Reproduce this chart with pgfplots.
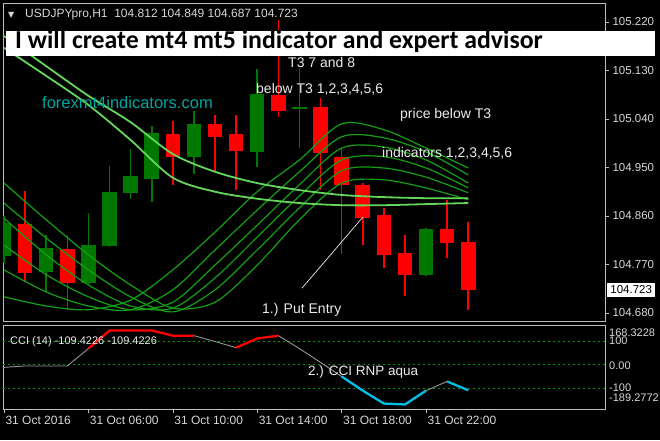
\documentclass[border=0pt]{standalone}
\usepackage{pgfplots}
\pgfplotsset{compat=1.18}
\usepackage{pgfplotstable}
\usepackage{fontspec}
\setmainfont{Liberation Sans}
\newfontfamily\titlefont{Carlito}
\newfontfamily\symfont{DejaVu Sans}
\definecolor{cRed}{RGB}{255,0,0}
\definecolor{cGreen}{RGB}{0,120,0}
\definecolor{tLine}{RGB}{20,160,20}
\definecolor{tLineB}{RGB}{100,215,90}
\definecolor{frameC}{RGB}{190,190,190}
\definecolor{labC}{RGB}{215,215,215}
\definecolor{annC}{RGB}{235,235,235}
\definecolor{tealC}{RGB}{0,165,160}
\definecolor{cciGray}{RGB}{150,150,150}
\definecolor{aquaC}{RGB}{0,190,230}
\definecolor{lvlC}{RGB}{0,150,0}

\pgfplotstableread{
k o h l c
0 104.788 104.862 104.775 104.849
2 104.756 104.825 104.719 104.801
4 104.736 104.866 104.732 104.808
5 104.806 104.955 104.804 104.906
6 104.903 104.986 104.892 104.934
7 104.929 105.027 104.886 105.014
9 104.970 105.057 104.940 105.031
12 104.979 105.133 104.951 105.086
14 105.060 105.135 104.986 105.063
20 104.752 104.838 104.750 104.836
}\greenC

\pgfplotstableread{
k o h l c
1 104.847 104.908 104.738 104.756
3 104.799 104.825 104.686 104.736
8 105.014 105.038 104.918 104.970
10 105.031 105.047 104.942 105.007
11 105.012 105.047 104.908 104.981
13 105.086 105.224 105.044 105.057
15 105.062 105.079 104.908 104.977
16 104.971 104.986 104.791 104.919
17 104.919 104.921 104.806 104.858
18 104.862 104.875 104.764 104.788
19 104.793 104.825 104.713 104.752
21 104.836 104.890 104.782 104.810
22 104.812 104.849 104.687 104.723
}\redC

\pgfplotstableread{
k L1 L2 L3 L4 L5 L6 Q P
0 104.710 104.760 104.806 104.856 104.884 104.921 105.194 105.172
2 104.693 104.719 104.751 104.788 104.819 104.853 105.138 105.120
4 104.686 104.693 104.710 104.732 104.760 104.788 105.083 105.066
6 104.704 104.686 104.686 104.693 104.710 104.732 105.034 105.001
8 104.760 104.723 104.700 104.689 104.682 104.689 104.975 104.931
10 104.830 104.797 104.769 104.745 104.723 104.700 104.942 104.905
12 104.905 104.871 104.843 104.821 104.797 104.769 104.921 104.892
14 104.964 104.942 104.918 104.897 104.875 104.853 104.908 104.884
16 105.031 105.007 104.986 104.964 104.944 104.921 104.899 104.880
18 105.020 105.005 104.988 104.970 104.949 104.927 104.895 104.880
20 104.986 104.979 104.964 104.949 104.932 104.912 104.893 104.882
22 104.949 104.936 104.921 104.912 104.903 104.890 104.893 104.884
}\tThree

\pgfplotstableread{
k v
0 -12
1 -6
2 -6
3 -6
4 68
5 145
6 145
7 145
8 123
9 123
10 98
11 72
12 111
13 123
14 68
15 9
16 -51
17 -111
18 -166
19 -170
20 -111
21 -72
22 -109.4226
}\cci

\begin{document}
\begin{tikzpicture}
\fill[black] (0pt,0pt) rectangle (660pt,440pt);
\useasboundingbox (0pt,0pt) rectangle (660pt,440pt);

\begin{axis}[
  at={(3pt,119pt)}, anchor=south west, scale only axis,
  width=602pt, height=318pt,
  xmin=-0.047, xmax=28.48, ymin=104.6651, ymax=105.2552,
  axis line style={draw=frameC, line width=0.8pt},
  xtick=\empty,
  ytick={104.68,104.77,104.86,104.95,105.04,105.13,105.22},
  ytick pos=right, yticklabel pos=right,
  tick align=outside, major tick length=4pt,
  tick style={draw=frameC, line width=0.6pt},
  yticklabel style={font=\fontsize{11.5}{12}\selectfont, text=labC,
    /pgf/number format/fixed, /pgf/number format/precision=3,
    /pgf/number format/fixed zerofill,
    /pgf/number format/assume math mode=true},
  scaled y ticks=false,
  clip mode=individual,
  candle/.style 2 args={draw=none, mark=none, forget plot, error bars/.cd, y dir=both, y explicit,
    error mark=none, error bar style={draw=#1, solid, line width=#2}},
]
% wicks
\addplot[candle={cGreen}{1.6pt}]
  table[x=k, y expr=(\thisrow{h}+\thisrow{l})/2, y error expr=(\thisrow{h}-\thisrow{l})/2] {\greenC};
\addplot[candle={cRed}{1.6pt}]
  table[x=k, y expr=(\thisrow{h}+\thisrow{l})/2, y error expr=(\thisrow{h}-\thisrow{l})/2] {\redC};
% bodies
\addplot[candle={cGreen}{14.5pt}]
  table[x=k, y expr=(\thisrow{o}+\thisrow{c})/2, y error expr=abs(\thisrow{c}-\thisrow{o})/2] {\greenC};
\addplot[candle={cRed}{14.5pt}]
  table[x=k, y expr=(\thisrow{o}+\thisrow{c})/2, y error expr=abs(\thisrow{c}-\thisrow{o})/2] {\redC};
% T3 lines
\addplot[tLine, line width=1.2pt, smooth] table[x=k, y=L1] {\tThree};
\addplot[tLine, line width=1.2pt, smooth] table[x=k, y=L2] {\tThree};
\addplot[tLine, line width=1.2pt, smooth] table[x=k, y=L3] {\tThree};
\addplot[tLine, line width=1.2pt, smooth] table[x=k, y=L4] {\tThree};
\addplot[tLine, line width=1.2pt, smooth] table[x=k, y=L5] {\tThree};
\addplot[tLine, line width=1.2pt, smooth] table[x=k, y=L6] {\tThree};
\addplot[tLineB, line width=1.8pt, smooth] table[x=k, y=Q] {\tThree};
\addplot[tLineB, line width=1.8pt, smooth] table[x=k, y=P] {\tThree};
% entry pointer
\draw[annC, line width=0.7pt] (axis cs:14.12,104.726) -- (axis cs:17.01,104.858);
\end{axis}

\begin{axis}[
  at={(3pt,31pt)}, anchor=south west, scale only axis,
  width=602pt, height=84pt,
  xmin=-0.047, xmax=28.48, ymin=-189.2772, ymax=168.3228,
  axis line style={draw=frameC, line width=0.8pt},
  ytick=\empty,
  xtick={0,4,8,12,16,20},
  xticklabels={31 Oct 2016, 31 Oct 06:00, 31 Oct 10:00, 31 Oct 14:00, 31 Oct 18:00, 31 Oct 22:00},
  xtick pos=bottom, tick align=outside, major tick length=4pt,
  tick style={draw=frameC, line width=0.6pt},
  xticklabel style={anchor=north west, xshift=-2pt, font=\fontsize{12}{13}\selectfont, text=labC},
  clip mode=individual,
]
\addplot[lvlC, line width=1pt, dash pattern=on 2pt off 3pt] coordinates {(-1,100) (29,100)};
\addplot[lvlC, line width=1pt, dash pattern=on 2pt off 3pt] coordinates {(-1,0) (29,0)};
\addplot[lvlC, line width=1pt, dash pattern=on 2pt off 3pt] coordinates {(-1,-100) (29,-100)};
\addplot[cciGray, line width=0.9pt] table[x=k, y=v] {\cci};
\addplot[cRed, line width=2.3pt] coordinates {(4,68) (5,145) (6,145) (7,145) (8,123) (9,123)};
\addplot[cRed, line width=2.3pt] coordinates {(11,72) (12,111) (13,123)};
\addplot[aquaC, line width=2.3pt] coordinates {(16,-51) (17,-111) (18,-166) (19,-170) (20,-111)};
\addplot[aquaC, line width=2.3pt] coordinates {(21,-72) (22,-109.4226)};
\end{axis}

% annotations
\begin{scope}[every node/.style={inner sep=0pt}]
\node[anchor=base west, text=annC, font=\fontsize{14}{16}\selectfont] at (288pt,372pt) {T3 7 and 8};
\node[anchor=base west, text=annC, font=\fontsize{14}{16}\selectfont] at (256pt,347pt) {below T3 1,2,3,4,5,6};
\node[anchor=base west, text=annC, font=\fontsize{14}{16}\selectfont] at (400pt,322pt) {price below T3};
\node[anchor=base west, text=annC, font=\fontsize{14}{16}\selectfont] at (382pt,283pt) {indicators 1,2,3,4,5,6};
\node[anchor=base west, text=tealC, font=\fontsize{16.5}{18}\selectfont] at (42pt,332pt) {forexmt4indicators.com};
\node[anchor=base west, text=annC, font=\fontsize{14}{16}\selectfont] at (262pt,127pt) {1.) Put Entry};
\node[anchor=base west, text=annC, font=\fontsize{11}{12}\selectfont] at (10pt,96pt) {CCI (14) -109.4226 -109.4226};
\node[anchor=base west, text=annC, font=\fontsize{13.5}{15}\selectfont] at (308pt,65pt) {2.) CCI RNP aqua};
% CCI scale labels
\node[anchor=west, text=labC, font=\fontsize{11}{12}\selectfont] at (609pt,107pt) {168.3228};
\node[anchor=west, text=labC, font=\fontsize{11}{12}\selectfont] at (609pt,99pt) {100};
\node[anchor=west, text=labC, font=\fontsize{11}{12}\selectfont] at (609pt,74pt) {0.00};
\node[anchor=west, text=labC, font=\fontsize{11}{12}\selectfont] at (609pt,52pt) {-100};
\node[anchor=west, text=labC, font=\fontsize{11}{12}\selectfont] at (609pt,42pt) {-189.2772};
% current price box
\node[anchor=west, fill=white, text=black, minimum width=48pt, minimum height=14pt,
  font=\fontsize{11.5}{12}\selectfont] at (607pt,150pt) {104.723};
% title box
\fill[white] (6pt,384pt) rectangle (655pt,409pt);
\node[anchor=base west, text=black, font=\titlefont\bfseries\fontsize{25.8}{28}\selectfont] at (15pt,391pt) {I will create mt4 mt5 indicator and expert advisor};
% header
\node[anchor=west, text=labC, font=\symfont\fontsize{8}{9}\selectfont] at (8pt,425pt) {▼};
\node[anchor=west, text=labC, font=\fontsize{12}{14}\selectfont] at (25pt,425pt) {USDJPYpro,H1\ \ 104.812 104.849 104.687 104.723};
\end{scope}
\end{tikzpicture}
\end{document}
